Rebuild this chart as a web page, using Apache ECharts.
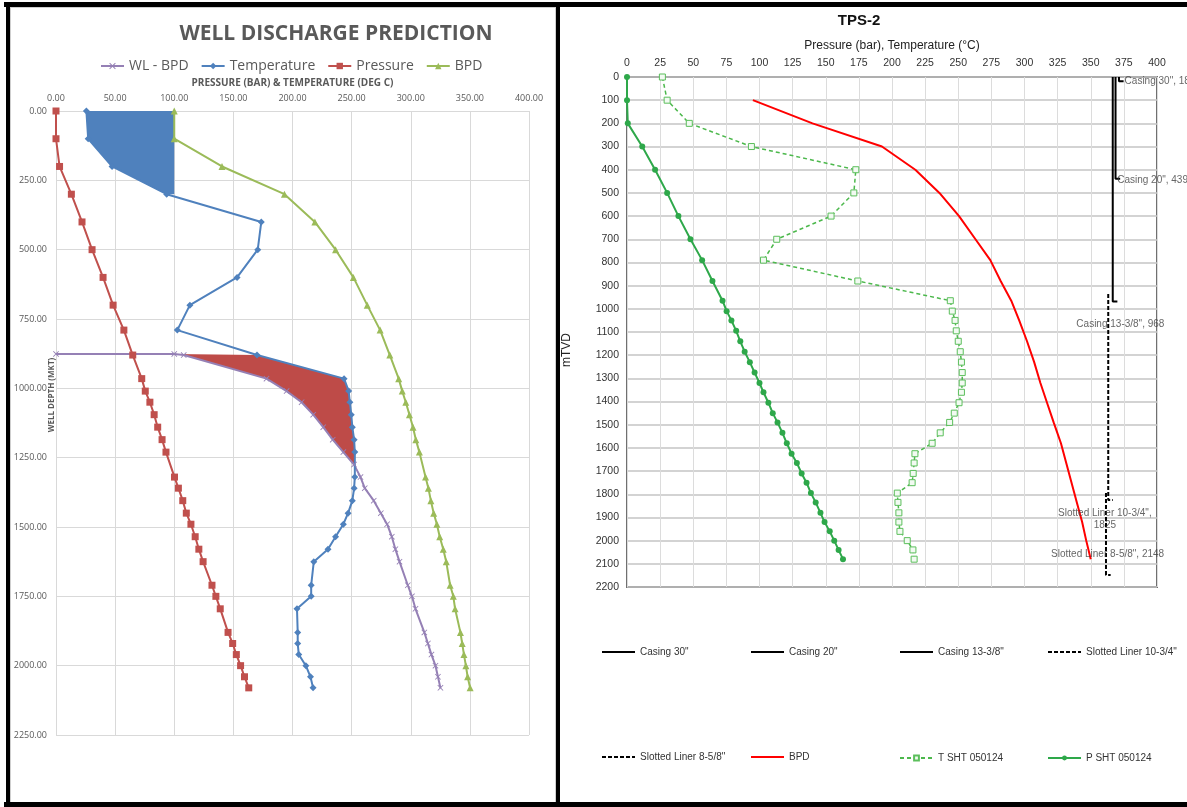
<!DOCTYPE html>
<html>
<head>
<meta charset="utf-8">
<title>Well discharge prediction / TPS-2</title>
<script src="https://cdn.jsdelivr.net/npm/echarts@6/dist/echarts.min.js"></script>
<style>
  html, body { margin: 0; padding: 0; background: #fff; }
  body { width: 1187px; height: 807px; position: relative; overflow: hidden; }
  #left  { position: absolute; left: 0;     top: 0; width: 556px; height: 807px; }
  #right { position: absolute; left: 560px; top: 0; width: 627px; height: 807px; }
  .bar   { position: absolute; background: #000; z-index: 5; }
  .frame { position: absolute; border: 1px solid #cfcfcf; z-index: 4; }
</style>
</head>
<body>
<div id="left"></div>
<div id="right"></div>
<div class="frame" style="left:10px;top:7px;width:544px;height:794px"></div>
<div class="bar" style="left:4px;top:2px;width:1183px;height:5px"></div>
<div class="bar" style="left:6px;top:2px;width:4px;height:805px"></div>
<div class="bar" style="left:556px;top:2px;width:4px;height:805px"></div>
<div class="bar" style="left:4px;top:802px;width:1183px;height:5px"></div>
<script>
// ---------- Well discharge prediction (left panel) ----------
const predDepth = [0, 100, 200, 300, 400, 500, 600, 700, 790, 880, 965, 1010, 1050, 1095, 1140, 1185, 1230,
  1320, 1360, 1405, 1450, 1490, 1535, 1580, 1625, 1710, 1750, 1795, 1880, 1920, 1960, 2000, 2040, 2080];
const predPressure = [0, 0, 3, 13, 22, 30.5, 39.8, 48.3, 57.4, 64.9, 72.5, 75.5, 79.4, 83, 86, 89.7, 93,
  100.2, 103.5, 107.2, 110.2, 114.1, 117.7, 120.8, 124.4, 131.9, 135.2, 138.9, 145.5, 149.4, 152.5, 156.1, 159.4, 163];
const predTemperature = [25.7, 27.2, 47.4, 93.6, 173.6, 170.6, 153.1, 113.2, 102.6, 170, 243.6, 247.5, 248.5, 249.7, 250.6, 252.1, 252.7,
  252.7, 252.1, 250.6, 247, 243, 236.4, 230, 218, 215.8, 215.8, 203.8, 204.4, 204.4, 205.3, 211.3, 215.2, 217.4];
const predBpd = [100, 100, 140.4, 193.2, 218.9, 236.4, 251.5, 263.2, 274.1, 282.3, 289.8, 292.8, 295.8, 298.9, 301.9, 304.3, 307.3,
  312.5, 314.9, 317, 319.4, 322.1, 324.5, 327.5, 330, 333.3, 336, 337.5, 342, 343.5, 345, 346.6, 348.1, 350.2];

// boiling point curve referenced to the water level
const wlDepth = [876, 876, 880, 965, 1010, 1050, 1095, 1140, 1185, 1230, 1275, 1320, 1360, 1405, 1450, 1490,
  1535, 1580, 1625, 1710, 1750, 1795, 1880, 1920, 1960, 2000, 2040, 2080];
const wlBpd = [0, 100, 108, 178, 195, 207.7, 217.5, 226, 234, 243, 252, 257.5, 261.1, 268.7, 274.7, 280,
  284, 287, 290.5, 297.5, 301, 304, 311.5, 314.5, 317.5, 320.9, 323, 325.1];

const predTicksX = [0, 400, 50];
const predTicksY = [0, 2250, 250];
const atmBoilingC = 100;        // boiling point at surface
const boilTop = 880, boilBottom = 1275;

// ---------- TPS-2 survey (right panel) ----------
const surveyDepth = [0, 100, 200, 300, 400, 500, 600, 700, 790, 880, 965, 1010, 1050, 1095, 1140, 1185, 1230, 1275,
  1320, 1360, 1405, 1450, 1490, 1535, 1580, 1625, 1665, 1710, 1750, 1795, 1835, 1880, 1920, 1960, 2000, 2040, 2080];
const surveyPressure = [0, 0, 0.6, 11.5, 21.2, 30.3, 38.8, 47.9, 56.7, 64.5, 72.1, 75.2, 78.8, 82.4, 85.5, 88.8, 92.7, 96.3,
  100, 103, 106.7, 110, 113.6, 117.3, 120.6, 124.2, 128.2, 131.8, 135.5, 138.8, 142.4, 146, 149.1, 153, 156.4, 159.7, 163];
const surveyTemperature = [26.7, 30.3, 47, 93.9, 172.7, 171.2, 154, 113, 103, 174.2, 244, 245.5, 247.6, 248.5, 250, 251.5, 252.4, 253,
  253, 252.4, 250.6, 247, 243.5, 236.4, 230.3, 217.3, 216.7, 216, 215.2, 204, 204.5, 205.2, 205.2, 206, 211.5, 215.8, 216.7];
const bpdDepth = [100, 200, 300, 400, 500, 600, 700, 790, 880, 965, 1050, 1140, 1230, 1320, 1405, 1490, 1580, 1665, 1750, 1835, 1920, 2000, 2080];
const bpdTemperature = [95, 140, 192.4, 217.6, 235.8, 250.6, 263, 274.2, 282, 290, 296, 301.9, 307.3, 312, 317, 322, 327.5, 331.5, 335.5, 339.5, 343.5, 346.6, 350];

const casingNames = ['Casing 30"', 'Casing 20"', 'Casing 13-3/8"', 'Slotted Liner 10-3/4"', 'Slotted Liner 8-5/8"'];
const casingX     = [371.3, 368.7, 366.6, 363.2, 361.5];
const casingTop   = [0, 0, 0, 936, 1795];
const casingShoe  = [18, 439, 968, 1825, 2148];

const surveyTicksX = [0, 400, 25];
const surveyTicksY = [0, 2200, 100];

// ---------- helpers ----------
const pts = (xs, ds) => xs.map((v, i) => [v, ds[i]]);
const X_SYMBOL = 'path://M1 0L5 4L9 0L10 1L6 5L10 9L9 10L5 6L1 10L0 9L4 5L0 1Z';

function polygonSeries(points, color) {
  return {
    type: 'custom', silent: true, z: 1, data: [[0, 0]],
    renderItem: (params, api) => ({
      type: 'polygon',
      shape: { points: points.map(p => api.coord(p)) },
      style: { fill: color }
    })
  };
}

const GREY = '#595959';
const OPEN = 'Open Sans';
const ARIAL = 'Liberation Sans';

// ---------- left chart ----------
const tempPts = pts(predTemperature, predDepth);
const coolZone = tempPts.filter(p => p[1] <= 300)
  .concat([[atmBoilingC, 300], [atmBoilingC, 0]]);
const boilZone = pts(wlBpd, wlDepth).slice(1).filter(p => p[1] <= boilBottom)
  .concat(tempPts.filter(p => p[1] >= boilTop && p[1] < boilBottom).reverse());

const leftChart = echarts.init(document.getElementById('left'));
leftChart.setOption({
  animation: false,
  textStyle: { fontFamily: OPEN },
  title: {
    text: 'WELL DISCHARGE PREDICTION', left: 331, top: 19, textAlign: 'center',
    textStyle: { fontFamily: OPEN, fontWeight: 'bold', fontSize: 21, color: GREY }
  },
  legend: {
    data: ['WL - BPD', 'Temperature', 'Pressure', 'BPD'],
    left: 95, top: 54, itemWidth: 23, itemHeight: 8, itemGap: 12, selectedMode: false,
    textStyle: { fontFamily: OPEN, fontSize: 14, color: GREY }
  },
  grid: { left: 56, top: 111, width: 473, height: 624, outerBoundsMode: 'none' },
  xAxis: {
    type: 'value', position: 'top',
    min: predTicksX[0], max: predTicksX[1], interval: predTicksX[2],
    name: 'PRESSURE (BAR) & TEMPERATURE (DEG C)', nameLocation: 'middle', nameGap: 23, nameMoveOverlap: false,
    nameTextStyle: { fontFamily: OPEN, fontWeight: 'bold', fontSize: 10, color: GREY },
    axisLine: { show: false }, axisTick: { show: false },
    axisLabel: { formatter: v => v.toFixed(2), fontFamily: OPEN, fontSize: 9, color: GREY, margin: 8 },
    splitLine: { lineStyle: { color: '#d9d9d9', width: 1 } }
  },
  yAxis: {
    type: 'value', inverse: true,
    min: predTicksY[0], max: predTicksY[1], interval: predTicksY[2],
    name: 'WELL DEPTH (MKT)', nameLocation: 'middle', nameRotate: 90, nameGap: 0, nameMoveOverlap: false,
    nameTextStyle: { fontFamily: OPEN, fontWeight: 'bold', fontSize: 8, color: GREY, padding: [0, 0, 0, 56] },
    axisLine: { show: false }, axisTick: { show: false },
    axisLabel: { formatter: v => v.toFixed(2), fontFamily: OPEN, fontSize: 9, color: GREY, margin: 9 },
    splitLine: { lineStyle: { color: '#d9d9d9', width: 1 } }
  },
  series: [
    polygonSeries(coolZone, '#4F81BD'),
    polygonSeries(boilZone, '#BE4B48'),
    {
      name: 'WL - BPD', type: 'line', data: pts(wlBpd, wlDepth), z: 3,
      symbol: X_SYMBOL, symbolSize: 6, color: '#8064A2',
      lineStyle: { width: 2 }, itemStyle: { color: '#9580b5' }
    },
    {
      name: 'Temperature', type: 'line', data: tempPts, z: 3,
      symbol: 'diamond', symbolSize: 7, color: '#4F81BD', lineStyle: { width: 2 }
    },
    {
      name: 'Pressure', type: 'line', data: pts(predPressure, predDepth), z: 3,
      symbol: 'rect', symbolSize: 7, color: '#C0504D', lineStyle: { width: 2 }
    },
    {
      name: 'BPD', type: 'line', data: pts(predBpd, predDepth), z: 3,
      symbol: 'triangle', symbolSize: 7, color: '#9BBB59', lineStyle: { width: 2 }
    }
  ]
});

// ---------- right chart ----------
const shoeTick = 3.5;
const shoeLabelLayout = [
  { align: 'left',   offset: [1, 0],    sep: ', ' },
  { align: 'left',   offset: [-3, 1],   sep: ', ' },
  { align: 'center', offset: [3, 23],   sep: ', ' },
  { align: 'center', offset: [-8, 19],  sep: ',\n' },
  { align: 'center', offset: [-3, -21], sep: ', ' }
];

const legendOrder = ['Casing 30"', 'Casing 20"', 'Casing 13-3/8"', 'Slotted Liner 10-3/4"',
  'Slotted Liner 8-5/8"', 'BPD', 'T SHT 050124', 'P SHT 050124'];
const legendSlots = [[36, 642], [185, 642], [334, 642], [482, 642],
                     [36, 747], [185, 747], [334, 747], [482, 747]];
const plainLineKeys = 6;   // first six keys are lines without markers

const casingSeries = casingNames.map((name, i) => ({
  name, type: 'line', z: 4, symbol: 'none', color: '#000',
  data: [[casingX[i], casingTop[i]], [casingX[i], casingShoe[i]], [casingX[i] + shoeTick, casingShoe[i]]],
  lineStyle: { width: 2, color: '#000', type: i >= 3 ? [4, 2] : 'solid' }
}));

const rightChart = echarts.init(document.getElementById('right'));
rightChart.setOption({
  animation: false,
  textStyle: { fontFamily: ARIAL },
  title: {
    text: 'TPS-2', left: 294, top: 8, textAlign: 'center',
    textStyle: { fontFamily: ARIAL, fontWeight: 'bold', fontSize: 15, color: '#111' }
  },
  legend: legendOrder.map((n, i) => ({
    data: [n], left: legendSlots[i][0], top: legendSlots[i][1] + (i < plainLineKeys ? 0 : 1),
    itemWidth: 33, itemHeight: i < plainLineKeys ? 10 : 6, selectedMode: false,
    itemStyle: i < plainLineKeys ? { opacity: 0 } : {},
    textStyle: { fontFamily: ARIAL, fontSize: 10, color: '#333' }
  })),
  grid: { left: 67, top: 77, width: 530, height: 510, show: true, borderColor: '#707070', borderWidth: 2,
          outerBoundsMode: 'none' },
  xAxis: {
    type: 'value', position: 'top',
    min: surveyTicksX[0], max: surveyTicksX[1], interval: surveyTicksX[2],
    name: 'Pressure (bar), Temperature (°C)', nameLocation: 'middle', nameGap: 25, nameMoveOverlap: false,
    nameTextStyle: { fontFamily: ARIAL, fontSize: 12, color: '#222' },
    axisLine: { show: false }, axisTick: { show: false },
    axisLabel: { fontFamily: ARIAL, fontSize: 10.5, color: '#333', margin: 8 },
    splitLine: { lineStyle: { color: '#dcdcdc', width: 1 } }
  },
  yAxis: {
    type: 'value', inverse: true,
    min: surveyTicksY[0], max: surveyTicksY[1], interval: surveyTicksY[2],
    name: 'mTVD', nameLocation: 'middle', nameRotate: 90, nameGap: 54, nameMoveOverlap: false,
    nameTextStyle: { fontFamily: ARIAL, fontSize: 12, color: '#222', padding: [0, 36, 0, 0] },
    axisLine: { show: false }, axisTick: { show: false },
    axisLabel: { formatter: v => String(v), fontFamily: ARIAL, fontSize: 10.5, color: '#333', margin: 8 },
    splitLine: { lineStyle: { color: '#c4c4c4', width: 1.5 } }
  },
  series: casingSeries.concat([
    {
      name: 'BPD', type: 'line', data: pts(bpdTemperature, bpdDepth), z: 3,
      symbol: 'none', color: '#ff0000', lineStyle: { width: 2 }
    },
    {
      name: 'T SHT 050124', type: 'line', data: pts(surveyTemperature, surveyDepth), z: 3,
      symbol: 'rect', symbolSize: 6,
      itemStyle: { color: '#f2faf2', borderColor: '#5cbf5c', borderWidth: 1 },
      lineStyle: { color: '#4cb84c', width: 1.5, type: [4, 3] }
    },
    {
      name: 'P SHT 050124', type: 'line', data: pts(surveyPressure, surveyDepth), z: 3,
      symbol: 'circle', symbolSize: 6, color: '#2ea84a', lineStyle: { width: 2 }
    },
    {
      type: 'scatter', silent: true, z: 5, symbolSize: 2,
      itemStyle: { color: 'rgba(0,0,0,0)' },
      data: casingNames.map((name, i) => ({
        value: [casingX[i] + shoeTick, casingShoe[i]],
        label: {
          show: true, position: 'inside',
          align: shoeLabelLayout[i].align, offset: shoeLabelLayout[i].offset,
          formatter: name + shoeLabelLayout[i].sep + casingShoe[i],
          fontFamily: ARIAL, fontSize: 10, lineHeight: 12, color: '#404040'
        }
      }))
    }
  ])
});
</script>
</body>
</html>
